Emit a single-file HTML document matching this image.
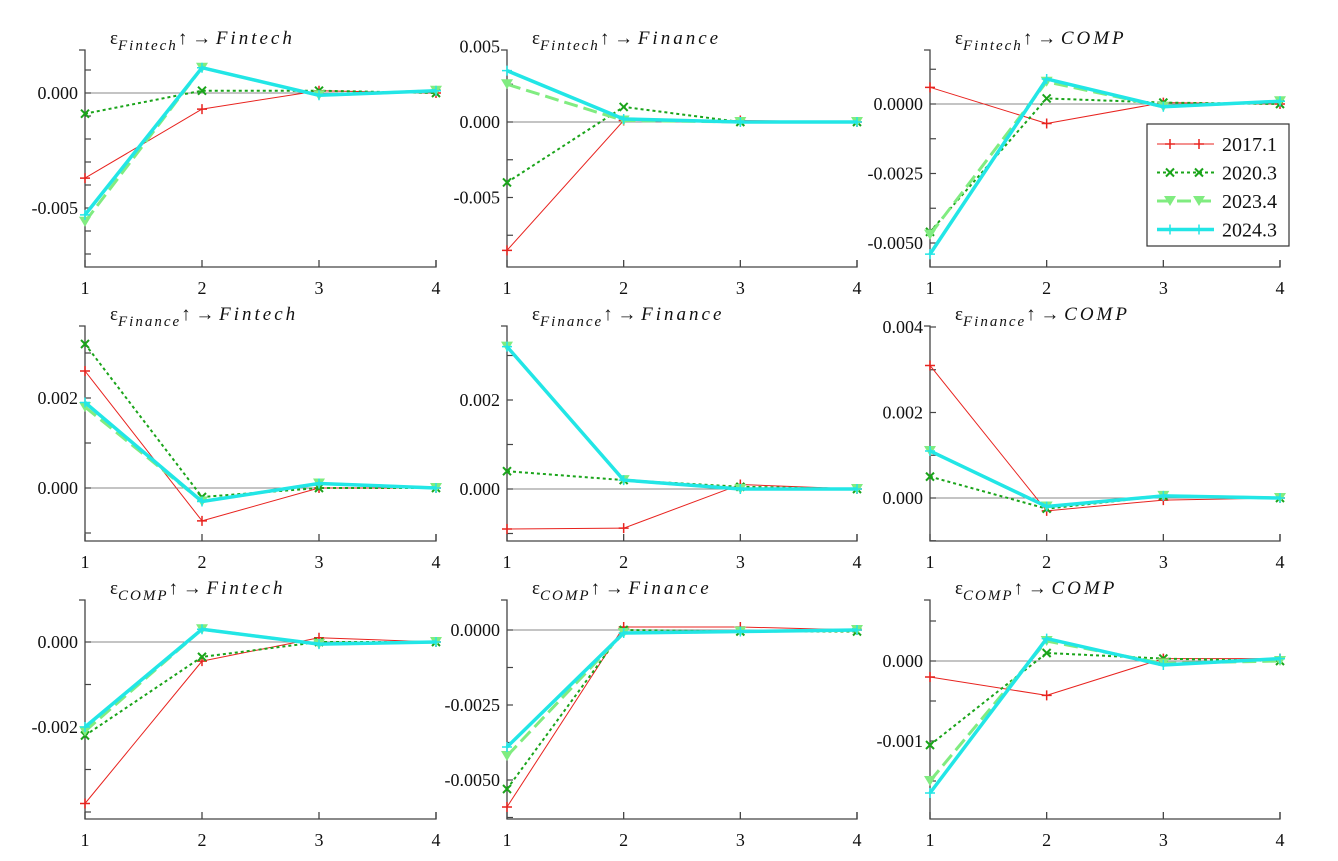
<!DOCTYPE html>
<html><head><meta charset="utf-8"><style>
body{margin:0;background:#fff;width:1338px;height:861px;overflow:hidden}
svg{display:block}
text{font-family:"Liberation Serif",serif}
</style></head><body>
<svg id="c" width="1338" height="861"></svg>
<script>
const periods=[1,2,3,4];
const seriesNames=["2017.1","2020.3","2023.4","2024.3"];
// each panel: values per series [2017.1, 2020.3, 2023.4, 2024.3]
const p11_red=[-0.0037,-0.0007,0.0001,0], p11_grn=[-0.0009,0.0001,0.0001,0], p11_lg=[-0.0056,0.0011,-0.0001,0.0001], p11_cy=[-0.0053,0.0011,-0.0001,0.0001];
const p12_red=[-0.0085,0.0001,0.0001,0], p12_grn=[-0.004,0.001,0,0], p12_lg=[0.0025,0.0001,0,0], p12_cy=[0.0034,0.0002,0,0];
const p13_red=[0.0006,-0.0007,0.00005,0], p13_grn=[-0.0046,0.0002,0.00005,0], p13_lg=[-0.0047,0.0008,-0.0001,0.0001], p13_cy=[-0.0054,0.0009,-0.0001,0.0001];
const p21_red=[0.0026,-0.00073,0,0], p21_grn=[0.0032,-0.0002,0,0], p21_lg=[0.0018,-0.0003,0.0001,0], p21_cy=[0.0019,-0.0003,0.0001,0];
const p22_red=[-0.0009,-0.00088,0.0001,0], p22_grn=[0.0004,0.0002,0.00005,0], p22_lg=[0.0032,0.0002,0,0], p22_cy=[0.0032,0.0002,0,0];
const p23_red=[0.0031,-0.0003,-0.00005,0], p23_grn=[0.0005,-0.00025,0.00005,0], p23_lg=[0.0011,-0.0002,0.00005,0], p23_cy=[0.0011,-0.0002,0.00005,0];
const p31_red=[-0.0038,-0.00045,0.0001,0], p31_grn=[-0.0022,-0.00035,0,0], p31_lg=[-0.0021,0.0003,-0.00005,0], p31_cy=[-0.002,0.0003,-0.00005,0];
const p32_red=[-0.0059,0.0001,0.0001,0], p32_grn=[-0.0053,0,-0.00005,-0.00005], p32_lg=[-0.0042,-0.0001,-0.00005,0], p32_cy=[-0.0039,-0.0001,-0.00005,0];
const p33_red=[-0.0002,-0.00043,0.00003,0.00003], p33_grn=[-0.00105,0.0001,0.00003,0], p33_lg=[-0.0015,0.00025,-0.00003,0], p33_cy=[-0.00165,0.00028,-0.00005,0.00003];
const tickLabels11=["0.000","-0.005"], tickLabels12=["0.005","0.000","-0.005"], tickLabels13=["0.0000","-0.0025","-0.0050"];
const tickLabels21=["0.002","0.000"], tickLabels22=["0.002","0.000"], tickLabels23=["0.004","0.002","0.000"];
const tickLabels31=["0.000","-0.002"], tickLabels32=["0.0000","-0.0025","-0.0050"], tickLabels33=["0.000","-0.001"];
const tickValues11=[0,-0.005], tickValues12=[0.005,0,-0.005], tickValues13=[0,-0.0025,-0.005];
const tickValues21=[0.002,0], tickValues22=[0.002,0], tickValues23=[0.004,0.002,0];
const tickValues31=[0,-0.002], tickValues32=[0,-0.0025,-0.005], tickValues33=[0,-0.001];

const NS="http://www.w3.org/2000/svg";
const svg=document.getElementById('c');
function el(t,a,p){const e=document.createElementNS(NS,t);for(const k in a)e.setAttribute(k,a[k]);(p||svg).appendChild(e);return e;}
const colX=[85,507,930], colX4=[436,857,1280];
const rowTop=[50,326,600], rowBot=[267,541,819];
// y calibration: [zeroPixel, pixelsPerUnit]
const cal=[[93,23000,0.001],[122,15100,0.0025],[104,27800,0.00125],
 [488,45000,0.001],[489,44500,0.001],[498,42750,0.001],
 [642,42500,0.001],[630,30000,0.00125],[661,80000,0.0005]];
const panels=[
 [p11_red,p11_grn,p11_lg,p11_cy,tickValues11,tickLabels11,"Fintech","Fintech"],
 [p12_red,p12_grn,p12_lg,p12_cy,tickValues12,tickLabels12,"Fintech","Finance"],
 [p13_red,p13_grn,p13_lg,p13_cy,tickValues13,tickLabels13,"Fintech","COMP"],
 [p21_red,p21_grn,p21_lg,p21_cy,tickValues21,tickLabels21,"Finance","Fintech"],
 [p22_red,p22_grn,p22_lg,p22_cy,tickValues22,tickLabels22,"Finance","Finance"],
 [p23_red,p23_grn,p23_lg,p23_cy,tickValues23,tickLabels23,"Finance","COMP"],
 [p31_red,p31_grn,p31_lg,p31_cy,tickValues31,tickLabels31,"COMP","Fintech"],
 [p32_red,p32_grn,p32_lg,p32_cy,tickValues32,tickLabels32,"COMP","Finance"],
 [p33_red,p33_grn,p33_lg,p33_cy,tickValues33,tickLabels33,"COMP","COMP"]];
const styles=[
 {c:"#e8231f",w:1,d:"",m:"plus"},
 {c:"#1aa41a",w:2,d:"3,3",m:"x"},
 {c:"#80ec80",w:3,d:"14,6",m:"tri"},
 {c:"#22e6e6",w:3.5,d:"",m:"plus"}];
function marker(g,m,x,y,c){
 if(m==="plus"){el('path',{d:`M${x-5},${y}H${x+5}M${x},${y-5}V${y+5}`,stroke:c,'stroke-width':1.5,fill:'none'},g);}
 else if(m==="x"){el('path',{d:`M${x-4},${y-4}L${x+4},${y+4}M${x-4},${y+4}L${x+4},${y-4}`,stroke:c,'stroke-width':2,fill:'none'},g);}
 else el('path',{d:`M${x-6},${y-5}H${x+6}L${x},${y+5}Z`,fill:c},g);
}
panels.forEach((P,i)=>{
 const r=Math.floor(i/3),cI=i%3;
 const x0=colX[cI],x4=colX4[cI],top=rowTop[r],bot=rowBot[r];
 const [z,s,minor]=cal[i];
 const X=v=>x0+(v-1)*(x4-x0)/3, Y=v=>z-v*s;
 const g=el('g',{});
 
 
 // zero line
 el('line',{x1:x0,x2:x4,y1:z,y2:z,stroke:'#888','stroke-width':1},g);
 // axes
 el('path',{d:`M${x0-6},${top}H${x0}V${bot}H${x4}V${bot-7}`,stroke:'#444','stroke-width':1.3,fill:'none'},g);
 periods.forEach(p=>{el('line',{x1:X(p),x2:X(p),y1:bot,y2:bot-7,stroke:'#444','stroke-width':1.3},g);
  const t=el('text',{x:X(p),y:bot+27,'text-anchor':'middle','font-size':18,fill:'#111'},g);t.textContent=p;});
 const vmin=(z-bot)/s, vmax=(z-top)/s;
 for(let k=Math.ceil(vmin/minor);k<=Math.floor(vmax/minor);k++){const y=Y(k*minor);
  el('line',{x1:x0,x2:x0+6,y1:y,y2:y,stroke:'#444','stroke-width':1.2},g);}
 P[4].forEach((v,j)=>{const t=el('text',{x:x0-7,y:Y(v)+6,'text-anchor':'end','font-size':18,fill:'#111'},g);t.textContent=P[5][j];});
 // title
 const tt=el('text',{x:x0+25,y:top-6,'font-size':19,fill:'#111'},g);
 
 
 tt.innerHTML=`ε<tspan dy="6" font-size="15" font-style="italic" letter-spacing="2">${P[6]}</tspan><tspan dy="-6">↑ → </tspan><tspan font-style="italic" letter-spacing="3">${P[7]}</tspan>`;
 for(let k=0;k<4;k++){const st=styles[k],d=P[k];
  const sg=el('g',{},g);
  
  
  el('polyline',{points:periods.map((p,j)=>X(p)+','+Y(d[j])).join(' '),fill:'none',stroke:st.c,'stroke-width':st.w,'stroke-dasharray':st.d,'stroke-linejoin':'round'},sg);
  periods.forEach((p,j)=>marker(sg,st.m,X(p),Y(d[j]),st.c));}
});
// legend
const lg=el('g',{});


el('rect',{x:1147,y:124,width:142,height:122,fill:'#fff',stroke:'#333','stroke-width':1.2},lg);
seriesNames.forEach((n,k)=>{const y=144+k*28.5,st=styles[k];
 const e=el('g',{},lg);
 
 
 el('line',{x1:1157,x2:1214,y1:y,y2:y,stroke:st.c,'stroke-width':st.w,'stroke-dasharray':st.d},e);
 marker(e,st.m,1170,y,st.c);marker(e,st.m,1199,y,st.c);
 const t=el('text',{x:1222,y:y+7,'font-size':20,fill:'#111'},e);t.textContent=n;});
</script>
</body></html>
